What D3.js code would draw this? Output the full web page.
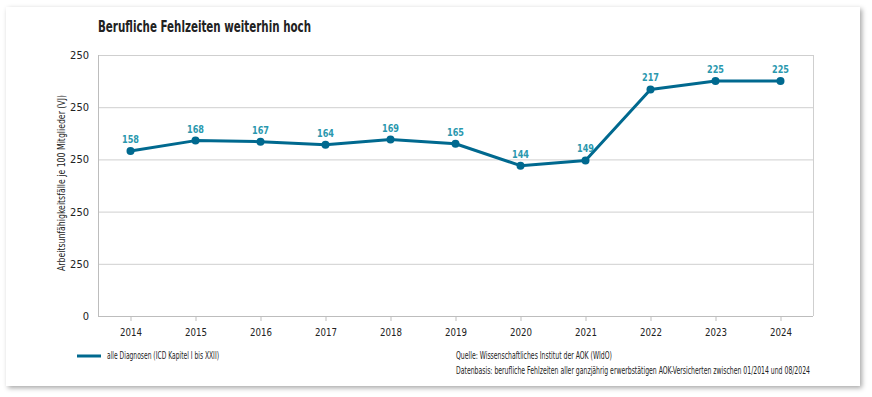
<!DOCTYPE html>
<html>
<head>
<meta charset="utf-8">
<script src="https://cdn.jsdelivr.net/npm/d3@7/dist/d3.min.js"></script>
<style>
  body { margin: 0; background: #fff; }
  svg text { font-family: "Liberation Sans Narrow", "DejaVu Sans Condensed", "DejaVu Sans", sans-serif; }
</style>
</head>
<body>
<svg id="chart" width="872" height="397"></svg>
<script>
// values
var years = ["2014", "2015", "2016", "2017", "2018", "2019", "2020", "2021", "2022", "2023", "2024"];
var values = [158, 168, 167, 164, 169, 165, 144, 149, 217, 225, 225];
var yTicks = [0, 50, 100, 150, 200, 250];
// the original labels every gridline "250"
var yTickLabels = ["0", "250", "250", "250", "250", "250"];

(function() {
  var svg = d3.select("#chart");

  var defs = svg.append("defs");
  var shadow = defs.append("filter").attr("id", "shadow")
      .attr("x", "-5%").attr("y", "-5%").attr("width", "110%").attr("height", "115%");
  shadow.append("feDropShadow").attr("dx", 2).attr("dy", 2).attr("stdDeviation", 2.5)
      .attr("flood-color", "#000").attr("flood-opacity", 0.35);

  // card
  svg.append("rect")
      .attr("x", 6).attr("y", 7).attr("width", 854).attr("height", 379)
      .attr("fill", "#fff")
      .attr("filter", "url(#shadow)");

  var plotLeft = 98, plotRight = 813, plotTop = 55, plotBottom = 316;

  var x = d3.scalePoint().domain(years).range([plotLeft, plotRight]).padding(0.5);
  var y = d3.scaleLinear().domain([0, 250]).range([plotBottom, plotTop]);

  // gridlines
  svg.append("g").selectAll("line")
      .data(yTicks.filter(function(d) { return d > 0; }))
    .enter().append("line")
      .attr("x1", plotLeft).attr("x2", plotRight)
      .attr("y1", function(d) { return y(d) + 0.5; })
      .attr("y2", function(d) { return y(d) + 0.5; })
      .attr("stroke", "#cfcfcf").attr("stroke-width", 1);

  // frame sides
  svg.append("line").attr("x1", plotLeft + 0.5).attr("x2", plotLeft + 0.5)
      .attr("y1", plotTop).attr("y2", plotBottom).attr("stroke", "#bdbdbd");
  svg.append("line").attr("x1", plotRight + 0.5).attr("x2", plotRight + 0.5)
      .attr("y1", plotTop).attr("y2", plotBottom).attr("stroke", "#cfcfcf");

  var xAxis = svg.append("g")
      .attr("transform", "translate(0," + plotBottom + ")")
      .call(d3.axisBottom(x).tickSize(5).tickPadding(7));
  xAxis.select(".domain").attr("stroke", "#bdbdbd").attr("d", "M" + plotLeft + ",0.5H" + plotRight);
  xAxis.selectAll(".tick line").attr("stroke", "#bdbdbd");
  xAxis.selectAll("text").attr("font-size", 11).attr("fill", "#222")
      .attr("textLength", 22).attr("lengthAdjust", "spacingAndGlyphs");

  var yAxis = svg.append("g")
      .attr("transform", "translate(" + plotLeft + ",0)")
      .call(d3.axisLeft(y).tickValues(yTicks).tickSize(0).tickPadding(9)
        .tickFormat(function(d, i) { return yTickLabels[i]; }));
  yAxis.select(".domain").remove();
  yAxis.selectAll("text").attr("font-size", 11).attr("fill", "#222");

  svg.append("text")
      .attr("transform", "translate(65,183) rotate(-90)")
      .attr("text-anchor", "middle")
      .attr("font-size", 10.5).attr("fill", "#222")
      .attr("textLength", 176).attr("lengthAdjust", "spacingAndGlyphs")
      .text("Arbeitsunfähigkeitsfälle je 100 Mitglieder (VJ)");

  // title
  svg.append("text")
      .attr("x", 98).attr("y", 32)
      .attr("font-size", 16.5).attr("font-weight", "bold").attr("fill", "#222")
      .attr("textLength", 213).attr("lengthAdjust", "spacingAndGlyphs")
      .text("Berufliche Fehlzeiten weiterhin hoch");

  var lineColor = "#00698f";
  var line = d3.line()
      .x(function(d, i) { return x(years[i]); })
      .y(function(d) { return y(d); });

  svg.append("path")
      .datum(values)
      .attr("d", line)
      .attr("fill", "none")
      .attr("stroke", lineColor)
      .attr("stroke-width", 3)
      .attr("stroke-linejoin", "round");

  svg.append("g").selectAll("circle")
      .data(values)
    .enter().append("circle")
      .attr("cx", function(d, i) { return x(years[i]); })
      .attr("cy", function(d) { return y(d); })
      .attr("r", 4)
      .attr("fill", lineColor);

  svg.append("g").selectAll("text")
      .data(values)
    .enter().append("text")
      .attr("x", function(d, i) { return x(years[i]); })
      .attr("y", function(d) { return y(d) - 8; })
      .attr("text-anchor", "middle")
      .attr("font-size", 10).attr("font-weight", "bold")
      .attr("fill", "#2a98ae")
      .attr("textLength", 17).attr("lengthAdjust", "spacingAndGlyphs")
      .text(function(d) { return d; });

  // legend
  svg.append("line")
      .attr("x1", 77).attr("x2", 101).attr("y1", 356).attr("y2", 356)
      .attr("stroke", lineColor).attr("stroke-width", 3);
  svg.append("text")
      .attr("x", 107).attr("y", 359)
      .attr("font-size", 10).attr("fill", "#222")
      .attr("textLength", 112).attr("lengthAdjust", "spacingAndGlyphs")
      .text("alle Diagnosen (ICD Kapitel I bis XXII)");

  // source
  svg.append("text")
      .attr("x", 456).attr("y", 359)
      .attr("font-size", 10).attr("fill", "#222")
      .attr("textLength", 156).attr("lengthAdjust", "spacingAndGlyphs")
      .text("Quelle: Wissenschaftliches Institut der AOK (WIdO)");
  svg.append("text")
      .attr("x", 456).attr("y", 374)
      .attr("font-size", 10).attr("fill", "#222")
      .attr("textLength", 354).attr("lengthAdjust", "spacingAndGlyphs")
      .text("Datenbasis: berufliche Fehlzeiten aller ganzjährig erwerbstätigen AOK-Versicherten zwischen 01/2014 und 08/2024");
})();
</script>
</body>
</html>
